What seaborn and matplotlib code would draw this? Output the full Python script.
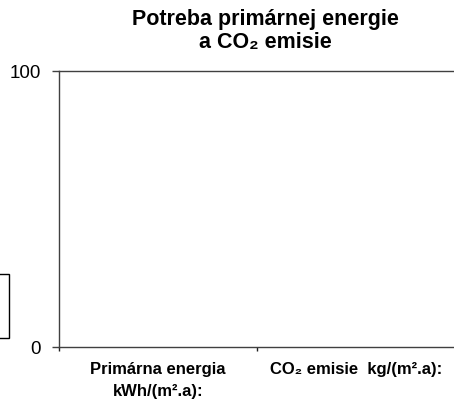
import matplotlib
matplotlib.use("Agg")
import matplotlib.pyplot as plt
import seaborn as sns
import pandas as pd
from matplotlib.patches import Rectangle

categories = ["Primárna energia\nkWh/(m².a):", "CO₂ emisie  kg/(m².a):"]
values = [0, 0]
y_ticks = [0, 100]

sns.set_theme(style="white")
plt.rcParams['font.family'] = ['Liberation Sans', 'DejaVu Sans']
plt.rcParams['text.color'] = 'black'
plt.rcParams['xtick.labelcolor'] = 'black'
plt.rcParams['ytick.labelcolor'] = 'black'

df = pd.DataFrame({"cat": categories, "val": values})

fig = plt.figure(figsize=(4.54, 4.08), dpi=100)
ax = fig.add_axes([59/454, 1-347/408, 396/454, (347-71)/408])
sns.barplot(data=df, x="cat", y="val", ax=ax, color="#9999ff")
ax.set_xlim(-0.5, 1.5)
ax.set_ylim(0, 100)
ax.set_yticks(y_ticks)
ax.set_yticklabels([str(v) for v in y_ticks], fontsize=13.5, color='black')
ax.tick_params(axis='y', direction='out', length=5, width=1, color='#404040', pad=8, left=True)
ax.set_xticks([-0.5, 0.5, 1.5])
ax.set_xticklabels([])
ax.tick_params(axis='x', which='major', direction='out', length=3, width=1, color='#202020', bottom=True)
ax.set_xticks([0, 1], minor=True)
ax.set_xticklabels(categories, minor=True, fontsize=12, fontweight='bold', linespacing=1.6, color='black')
ax.tick_params(axis='x', which='minor', length=0, pad=11)
ax.set_xlabel("")
ax.set_ylabel("")
for s in ['left', 'bottom', 'top']:
    ax.spines[s].set_visible(True)
    ax.spines[s].set_color('#404040')
    ax.spines[s].set_linewidth(1)
ax.spines['right'].set_visible(False)

fig.text(265/454, 1-9/408, "Potreba primárnej energie\na CO₂ emisie",
         ha='center', va='top', fontsize=15.5, fontweight='bold', linespacing=1.1, color='black')

fig.patches.append(Rectangle((-10/454, 1-338/408), 19/454, 64/408, transform=fig.transFigure,
                             fill=False, edgecolor='#000000', linewidth=1, figure=fig))

fig.savefig("out.png", dpi=100)
